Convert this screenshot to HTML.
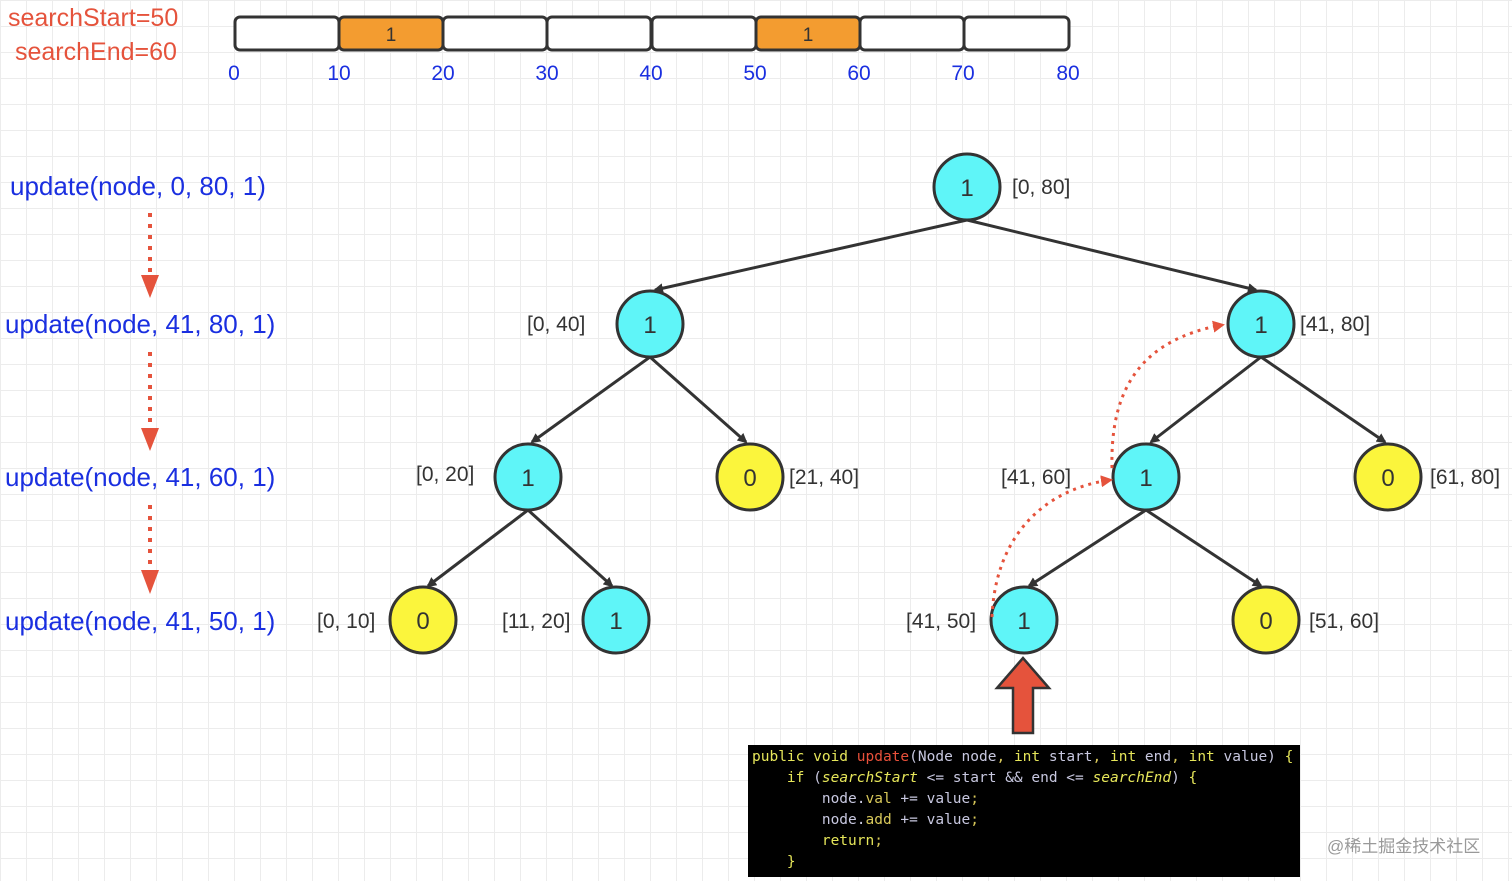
<!DOCTYPE html>
<html><head><meta charset="utf-8"><style>
body{margin:0;width:1512px;height:881px;overflow:hidden;background:#fff;
background-image:linear-gradient(#ececec 1px,transparent 1px),linear-gradient(90deg,#ececec 1px,transparent 1px);background-size:26px 26px;}
svg{position:absolute;left:0;top:0}
.code{position:absolute;left:748px;top:745px;width:552px;height:132px;background:#000;font-family:"DejaVu Sans Mono","Liberation Mono",monospace;font-size:14.5px;line-height:21px;color:#c8c8e0;white-space:pre;padding:2px 0 0 4px;box-sizing:border-box}
.k{color:#e6e65a}.r{color:#e8503a}.i{color:#e6e65a;font-style:italic}.g{color:#d8c85a}
</style></head><body>
<svg width="1512" height="881" font-family="Liberation Sans, sans-serif">
<defs>
<marker id="a" markerWidth="10" markerHeight="10" refX="8" refY="5" orient="auto" markerUnits="userSpaceOnUse" viewBox="0 0 10 10"><path d="M0,0 L10,5 L0,10 z" fill="#333"/></marker>
<marker id="r" markerWidth="12" markerHeight="12" refX="9" refY="6" orient="auto" markerUnits="userSpaceOnUse" viewBox="0 0 12 12"><path d="M0,0 L12,6 L0,12 z" fill="#e5533c"/></marker>
</defs>
<text x="8" y="26" font-size="25" fill="#e5533c">searchStart=50</text>
<text x="15" y="60" font-size="25" fill="#e5533c">searchEnd=60</text>
<g stroke="#333" stroke-width="3">
<rect x="235" y="17" width="104" height="33" rx="5" fill="#fff"/>
<rect x="339" y="17" width="104" height="33" rx="5" fill="#f39c30"/>
<rect x="443" y="17" width="104" height="33" rx="5" fill="#fff"/>
<rect x="547" y="17" width="104" height="33" rx="5" fill="#fff"/>
<rect x="652" y="17" width="104" height="33" rx="5" fill="#fff"/>
<rect x="756" y="17" width="104" height="33" rx="5" fill="#f39c30"/>
<rect x="860" y="17" width="104" height="33" rx="5" fill="#fff"/>
<rect x="964" y="17" width="105" height="33" rx="5" fill="#fff"/>
</g>
<text x="391" y="41" font-size="19" fill="#333" text-anchor="middle">1</text>
<text x="808" y="41" font-size="19" fill="#333" text-anchor="middle">1</text>
<g font-size="21" fill="#1a2fe0" text-anchor="middle">
<text x="234" y="80">0</text><text x="339" y="80">10</text><text x="443" y="80">20</text><text x="547" y="80">30</text><text x="651" y="80">40</text><text x="755" y="80">50</text><text x="859" y="80">60</text><text x="963" y="80">70</text><text x="1068" y="80">80</text>
</g>
<g font-size="26" fill="#1a2fe0">
<text x="10" y="195">update(node, 0, 80, 1)</text>
<text x="5" y="333">update(node, 41, 80, 1)</text>
<text x="5" y="486">update(node, 41, 60, 1)</text>
<text x="5" y="630">update(node, 41, 50, 1)</text>
</g>
<g stroke="#e5533c" stroke-width="4" stroke-dasharray="4,7">
<line x1="150" y1="213" x2="150" y2="272"/><line x1="150" y1="352" x2="150" y2="425"/><line x1="150" y1="505" x2="150" y2="568"/>
</g>
<g fill="#e5533c"><path d="M141,275 L159,275 L150,298z"/><path d="M141,428 L159,428 L150,451z"/><path d="M141,570 L159,570 L150,594z"/></g>
<g stroke="#333" stroke-width="3" marker-end="url(#a)">
<line x1="967" y1="220" x2="655" y2="290"/><line x1="967" y1="220" x2="1256" y2="290"/>
<line x1="650" y1="357" x2="532" y2="442"/><line x1="650" y1="357" x2="746" y2="442"/>
<line x1="1261" y1="357" x2="1151" y2="442"/><line x1="1261" y1="357" x2="1385" y2="442"/>
<line x1="528" y1="510" x2="428" y2="586"/><line x1="528" y1="510" x2="612" y2="586"/>
<line x1="1146" y1="510" x2="1029" y2="586"/><line x1="1146" y1="510" x2="1261" y2="586"/>
</g>
<g stroke="#333" stroke-width="3">
<circle cx="967" cy="187" r="33" fill="#5ff5f8"/>
<circle cx="650" cy="324" r="33" fill="#5ff5f8"/><circle cx="1261" cy="324" r="33" fill="#5ff5f8"/>
<circle cx="528" cy="477" r="33" fill="#5ff5f8"/><circle cx="750" cy="477" r="33" fill="#fbf53c"/>
<circle cx="1146" cy="477" r="33" fill="#5ff5f8"/><circle cx="1388" cy="477" r="33" fill="#fbf53c"/>
<circle cx="423" cy="620" r="33" fill="#fbf53c"/><circle cx="616" cy="620" r="33" fill="#5ff5f8"/>
<circle cx="1024" cy="620" r="33" fill="#5ff5f8"/><circle cx="1266" cy="620" r="33" fill="#fbf53c"/>
</g>
<g font-size="24" fill="#333" text-anchor="middle">
<text x="967" y="196">1</text><text x="650" y="333">1</text><text x="1261" y="333">1</text>
<text x="528" y="486">1</text><text x="750" y="486">0</text><text x="1146" y="486">1</text><text x="1388" y="486">0</text>
<text x="423" y="629">0</text><text x="616" y="629">1</text><text x="1024" y="629">1</text><text x="1266" y="629">0</text>
</g>
<g font-size="21" fill="#333">
<text x="1012" y="194">[0, 80]</text><text x="527" y="331">[0, 40]</text><text x="1300" y="331">[41, 80]</text>
<text x="416" y="481">[0, 20]</text><text x="789" y="484">[21, 40]</text><text x="1001" y="484">[41, 60]</text><text x="1430" y="484">[61, 80]</text>
<text x="317" y="628">[0, 10]</text><text x="502" y="628">[11, 20]</text><text x="906" y="628">[41, 50]</text><text x="1309" y="628">[51, 60]</text>
</g>
<g fill="none" stroke="#e5533c" stroke-width="3" stroke-dasharray="3,5">
<path d="M992,617 C995,540 1040,490 1110,480" marker-end="url(#r)"/>
<path d="M1112,468 C1110,390 1140,340 1222,325" marker-end="url(#r)"/>
</g>
<path d="M1013,733 L1013,688 L997,688 L1023,658 L1049,688 L1033,688 L1033,733 z" fill="#e5533c" stroke="#333" stroke-width="2.5"/>
<text x="1327" y="852" font-size="17" fill="#999" font-family="Liberation Sans, Noto Sans CJK SC, sans-serif">@稀土掘金技术社区</text>
</svg>
<div class="code"><span class="k">public void</span> <span class="r">update</span>(Node node<span class="g">,</span> <span class="k">int</span> start<span class="g">,</span> <span class="k">int</span> end<span class="g">,</span> <span class="k">int</span> value) <span class="k">{</span>
    <span class="k">if</span> (<span class="i">searchStart</span> &lt;= start &amp;&amp; end &lt;= <span class="i">searchEnd</span>) <span class="k">{</span>
        node.<span class="g">val</span> += value<span class="g">;</span>
        node.<span class="g">add</span> += value<span class="g">;</span>
        <span class="k">return</span><span class="g">;</span>
    <span class="k">}</span></div>
</body></html>
